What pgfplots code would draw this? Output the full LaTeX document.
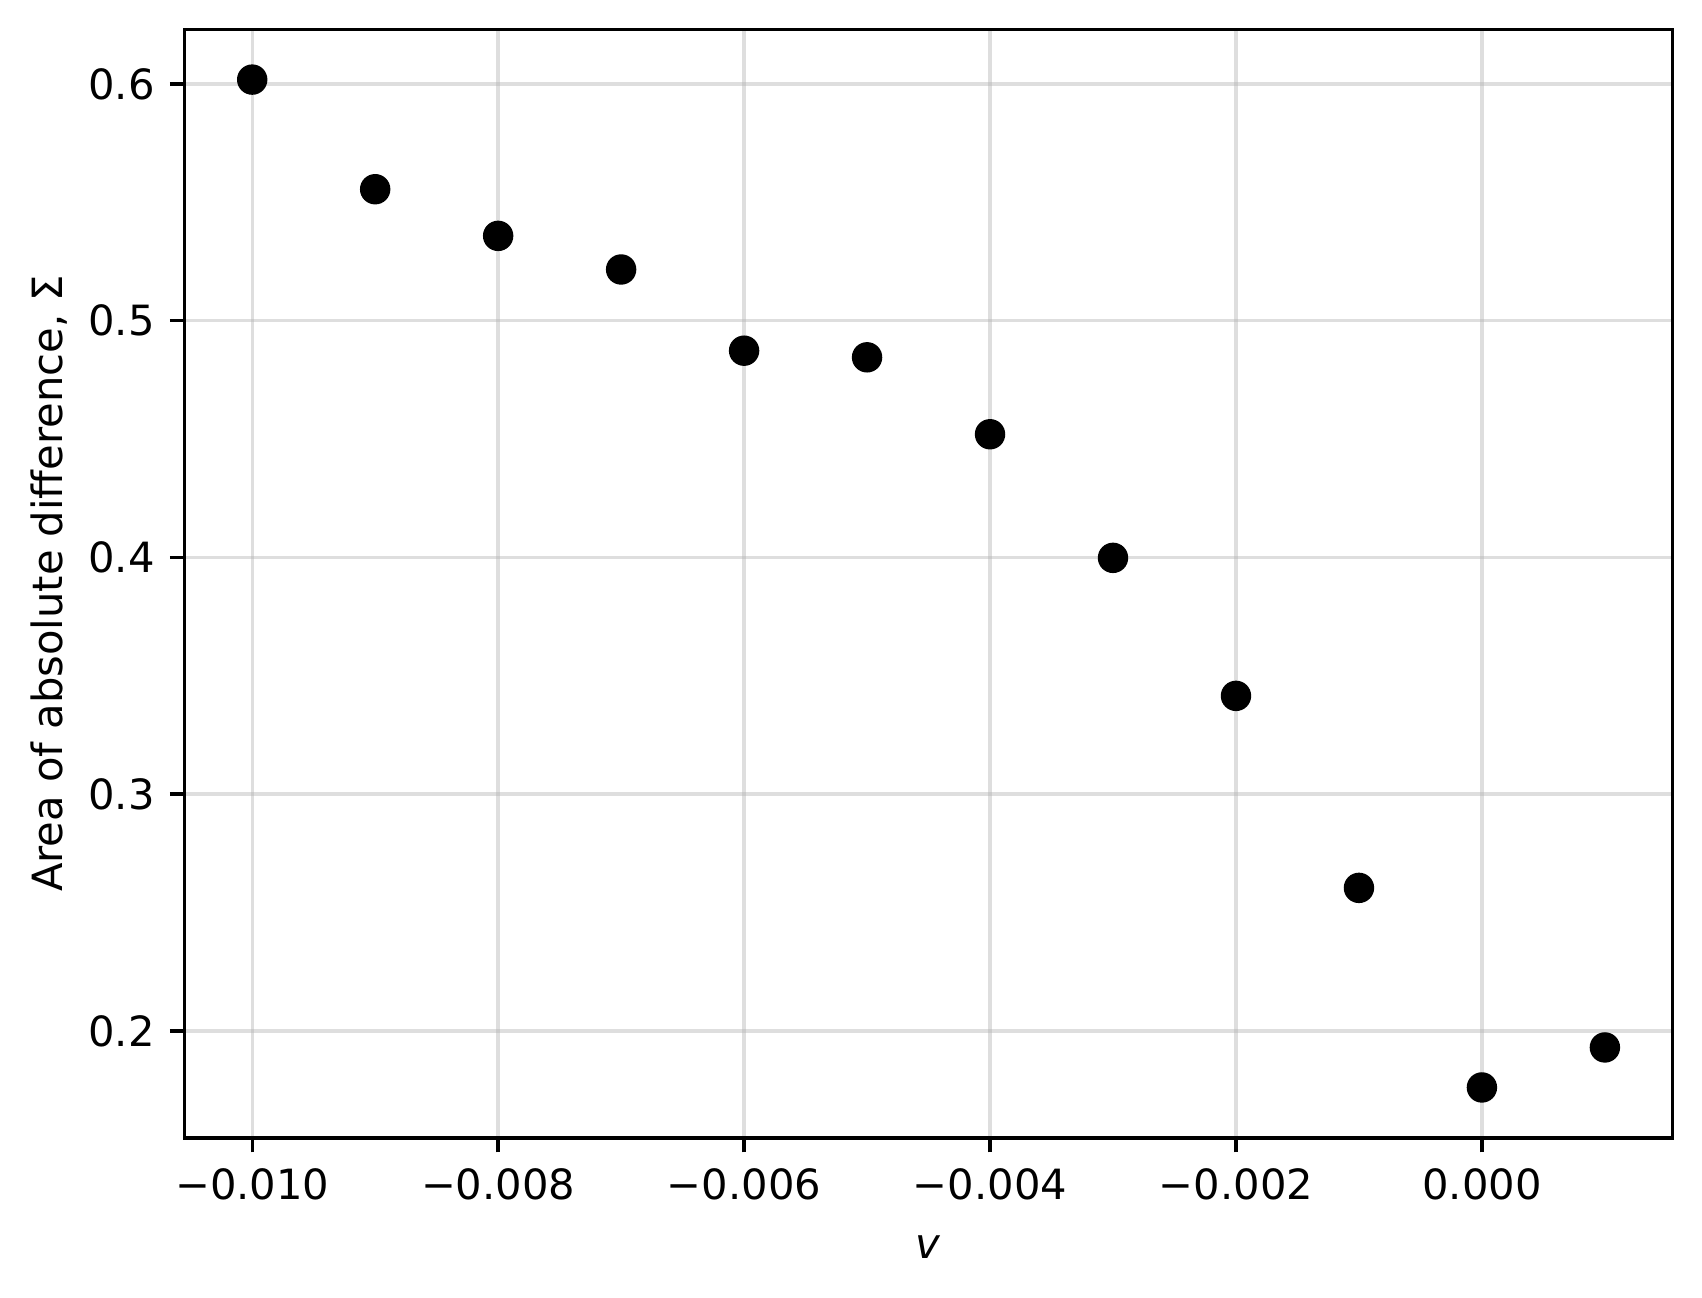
\documentclass[border=0pt]{standalone}
\usepackage{fontspec}
\setmainfont{DejaVu Sans}
\usepackage{pgfplots}
\pgfplotsset{compat=1.18}
\definecolor{gridc}{RGB}{176,176,176}
\begin{document}
\begin{tikzpicture}
\useasboundingbox (-44.3pt,-38.4pt) rectangle (364.2pt,273.1pt);
\begin{axis}[
  at={(0,0)}, anchor=south west,
  scale only axis,
  width=357.12pt, height=266.1pt,
  xmin=-0.01055, xmax=0.00155,
  ymin=0.1548, ymax=0.6231,
  xtick={-0.010,-0.008,-0.006,-0.004,-0.002,0.000},
  xticklabels={−0.010,−0.008,−0.006,−0.004,−0.002,0.000},
  ytick={0.2,0.3,0.4,0.5,0.6},
  yticklabels={0.2,0.3,0.4,0.5,0.6},
  scaled ticks=false,
  tick align=outside,
  major tick length=3.5pt,
  every tick/.style={black, line width=0.8pt},
  axis line style={black, line width=0.8pt},
  xtick pos=bottom, ytick pos=left,
  grid=major,
  major grid style={color=gridc, opacity=0.42, line width=0.8pt},
  axis on top,
  tick label style={font=\fontsize{10}{12}\selectfont, inner sep=0pt},
  xticklabel style={anchor=base, yshift=-11.4pt},
  yticklabel style={anchor=east, xshift=-3.5pt},
  label style={font=\fontsize{10}{12}\selectfont},
  xlabel={\textit{v}},
  xlabel style={at={(axis description cs:0.5,-0.109)}, anchor=base, inner sep=0pt},
  ylabel={Area of absolute difference, Σ},
  ylabel style={at={(axis description cs:-0.0820,0.5)}, anchor=base, inner sep=0pt},
]
\addplot[only marks, mark=*, mark size=3.45pt, mark options={draw=none, fill=black}]
coordinates {
(-0.010,0.6018)
(-0.009,0.5555)
(-0.008,0.5358)
(-0.007,0.5216)
(-0.006,0.4873)
(-0.005,0.4845)
(-0.004,0.4520)
(-0.003,0.3998)
(-0.002,0.3415)
(-0.001,0.2604)
(0.000,0.1761)
(0.001,0.1930)
};
\end{axis}
\end{tikzpicture}
\end{document}
